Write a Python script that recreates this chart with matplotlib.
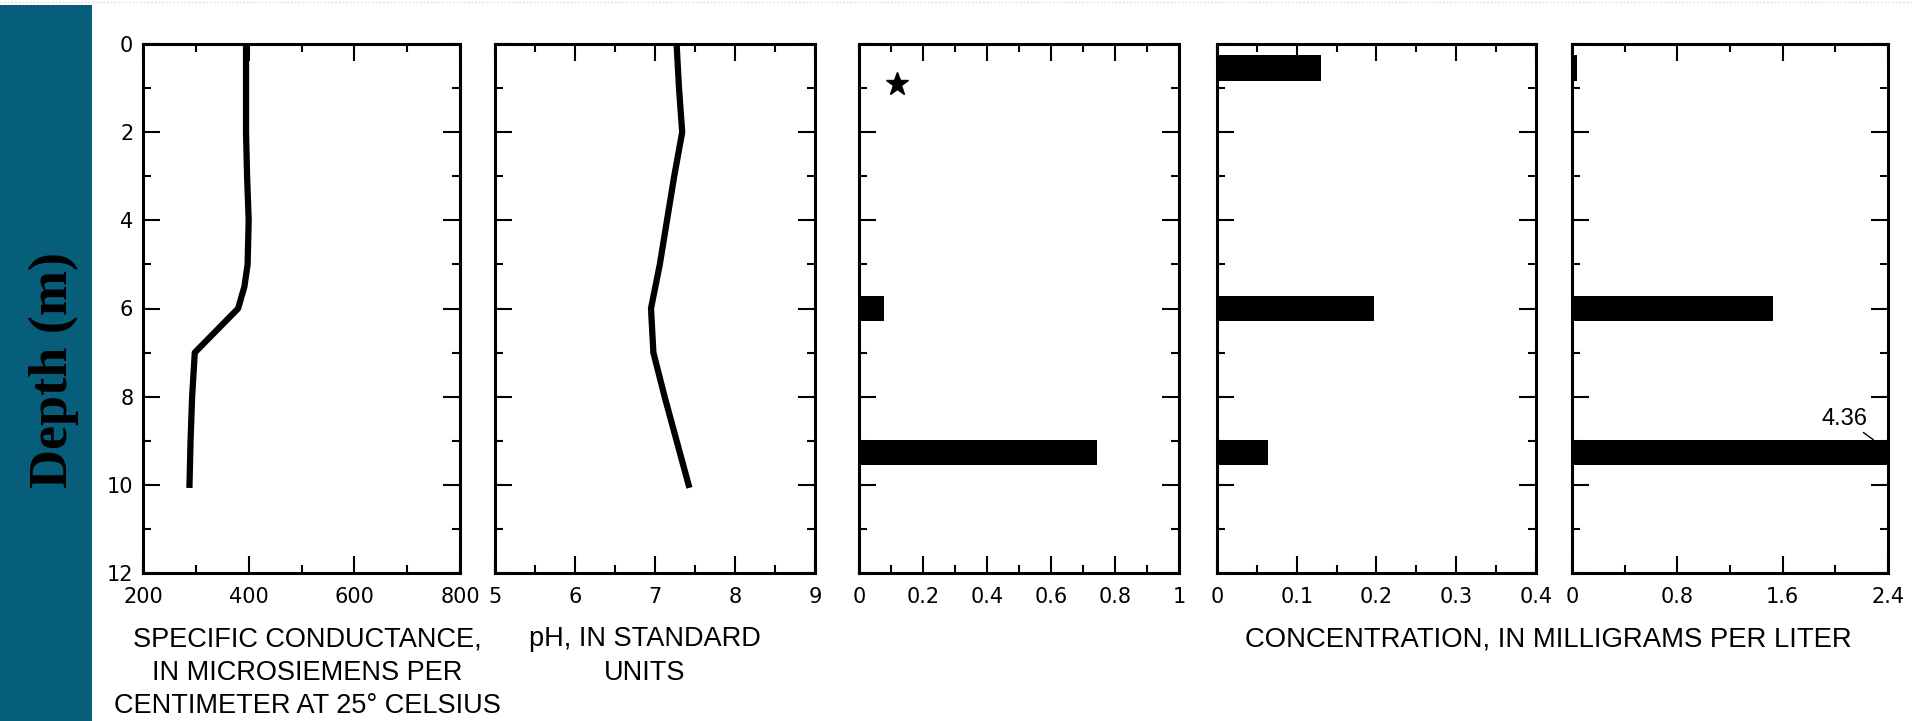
import numpy as np
import matplotlib
matplotlib.use("Agg")
import matplotlib.pyplot as plt
from matplotlib.patches import Rectangle
from matplotlib.lines import Line2D
from matplotlib.ticker import MultipleLocator

# profile data
cond_depth = [0, 1, 2, 3, 4, 5, 5.5, 6, 7, 8, 9, 10]
conductance = [395, 395, 395, 397, 400, 398, 392, 380, 298, 293, 290, 288]

ph_depth = [0, 1, 2, 3, 4, 5, 6, 7, 8, 9, 10]
ph_values = [7.27, 7.30, 7.34, 7.24, 7.15, 7.06, 6.95, 6.98, 7.12, 7.27, 7.42]

# bar samples
sample_depth = [0.55, 6.0, 9.27]
ammonia = [np.nan, 0.078, 0.745]
nitrate = [0.130, 0.197, 0.064]
manganese = [0.036, 1.53, 4.36]
star_x, star_depth = 0.12, 0.9

# axes limits / ticks: (xmin, xmax, major, minor)
scales = [(200, 800, 200, 100),
          (5, 9, 1, 0.5),
          (0, 1, 0.2, 0.1),
          (0, 0.4, 0.1, 0.05),
          (0, 2.4, 0.8, 0.4)]
panel_left = [143, 495, 859, 1217, 1572]
panel_width = [317, 320, 320, 319, 316]

W, H = 1915, 721
fig = plt.figure(figsize=(W / 100, H / 100), dpi=100)
fig.patch.set_facecolor("white")

# side band
fig.patches.append(Rectangle((0, 0), 92 / W, 1 - 5 / H, transform=fig.transFigure,
                             facecolor="#065e7a", edgecolor="none", zorder=0))
fig.lines.append(Line2D([0, 1], [1 - 1.5 / H, 1 - 1.5 / H], transform=fig.transFigure,
                        color="#d8d8d8", lw=1, ls=":"))
fig.text(54 / W, 1 - 370 / H, "Depth (m)", rotation=90, ha="center", va="center",
         family="Liberation Serif", weight="bold", fontsize=39, color="black")

top, bottom = 44, 573
axes = []
for i in range(5):
    ax = fig.add_axes([panel_left[i] / W, 1 - bottom / H,
                       panel_width[i] / W, (bottom - top) / H])
    lo, hi, major, minor = scales[i]
    ax.set_xlim(lo, hi)
    ax.set_ylim(12, 0)
    ax.xaxis.set_major_locator(MultipleLocator(major))
    ax.xaxis.set_minor_locator(MultipleLocator(minor))
    ax.yaxis.set_major_locator(MultipleLocator(2))
    ax.yaxis.set_minor_locator(MultipleLocator(1))
    ax.tick_params(which="both", direction="in", top=True, right=True, width=1.5,
                   color="black")
    ax.tick_params(which="major", length=12)
    ax.tick_params(which="minor", length=6)
    ax.tick_params(axis="x", which="major", pad=10, labelsize=15,
                   labelfontfamily="DejaVu Sans")
    ax.tick_params(axis="y", which="major", pad=7, labelsize=15,
                   labelfontfamily="DejaVu Sans")
    for s in ax.spines.values():
        s.set_linewidth(2.2)
    if i > 0:
        ax.tick_params(axis="y", labelleft=False)
    ax.xaxis.set_major_formatter(plt.FuncFormatter(lambda v, p: "{:g}".format(round(v, 3))))
    axes.append(ax)

# conductance and pH profiles
axes[0].plot(conductance, cond_depth, color="black", lw=4.5)
axes[1].plot(ph_values, ph_depth, color="black", lw=4.5)

bar_h = 0.58
for ax, vals in zip(axes[2:], [ammonia, nitrate, manganese]):
    d = [sd for sd, v in zip(sample_depth, vals) if not np.isnan(v)]
    v = [v for v in vals if not np.isnan(v)]
    ax.barh(d, v, height=bar_h, color="black", linewidth=0)

axes[2].plot([star_x], [star_depth], marker="*", markersize=17, color="black")

label_font = dict(family="Liberation Sans", fontsize=20)
axes[2].text(0.5, 11, "Ammonia nitrogen", transform=axes[2].get_xaxis_transform(),
             ha="center", va="center", **label_font)
axes[3].text(0.54, 11, "Nitrate nitrogen", transform=axes[3].get_xaxis_transform(),
             ha="center", va="center", **label_font)
axes[4].text(0.53, 11, "Manganese", transform=axes[4].get_xaxis_transform(),
             ha="center", va="center", **label_font)

# off-scale value for manganese
axes[4].annotate("{:.2f}".format(manganese[2]), xy=(2.29, sample_depth[2] - bar_h / 2),
                 xytext=(2.07, 8.5), ha="center", va="center",
                 family="Liberation Sans", fontsize=17,
                 arrowprops=dict(arrowstyle="-", lw=1, color="black",
                                 shrinkA=0, shrinkB=0))

bottom_font = dict(family="Liberation Sans", fontsize=19.5, ha="center", va="top",
                   linespacing=1.38)
fig.text(307 / W, 1 - 626 / H,
         "SPECIFIC CONDUCTANCE,\nIN MICROSIEMENS PER\nCENTIMETER AT 25\u00b0 CELSIUS",
         **bottom_font)
fig.text(645 / W, 1 - 626 / H, "pH, IN STANDARD\nUNITS", **bottom_font)
fig.text(1548 / W, 1 - 626 / H, "CONCENTRATION, IN MILLIGRAMS PER LITER",
         family="Liberation Sans", fontsize=19.8, ha="center", va="top")

fig.savefig("out.png", dpi=100)
